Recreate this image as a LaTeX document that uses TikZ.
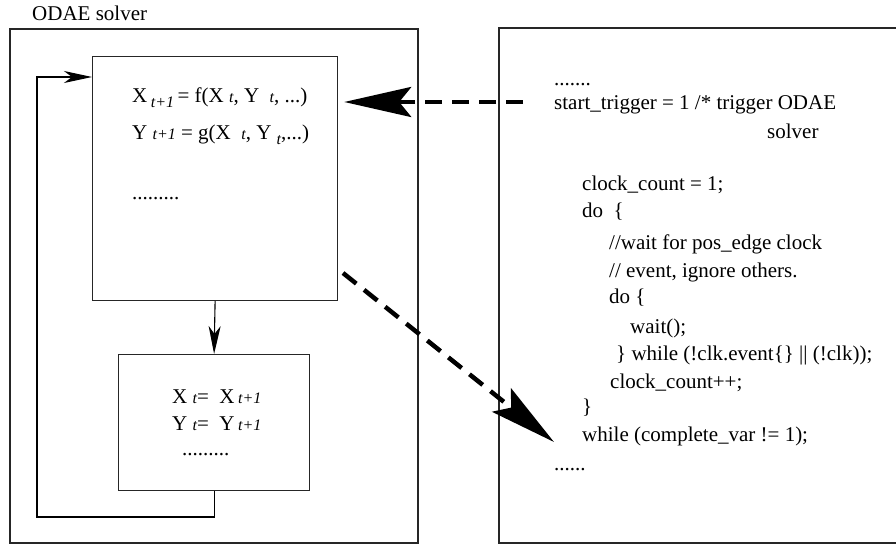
\documentclass[tikz,border=0pt]{standalone}
\usepackage{fontspec}
\setmainfont{Liberation Serif}
\usetikzlibrary{arrows.meta}

% italic index used in the update formulas
\newcommand\ix[1]{{\fontsize{16}{16}\selectfont\itshape #1}}
\newcommand\lowix[1]{\raisebox{-5pt}{\ix{#1}}}

\tikzset{
  frame/.style={draw=black!85, line width=1.2pt},
  stepbox/.style={draw=black!85, line width=1.2pt, inner sep=0pt, anchor=north west},
  txt/.style={anchor=base west, inner sep=0pt, font=\fontsize{21}{25}\selectfont},
  flow/.style={line width=1.1pt, -{Stealth[length=28pt,width=12pt,inset=8pt]}},
  callarrow/.style={line width=4.5pt, dash pattern=on 17pt off 10pt,
    -{Stealth[length=67pt,width=30pt,inset=12pt]}}
}

\begin{document}
\begin{tikzpicture}[x=1pt,y=-1pt]
\useasboundingbox (0,0) rectangle (896,545);

% outer frames
\draw[frame] (10,29) rectangle (418,543);
\draw[frame] (499,28) rectangle (898,543);
\node[txt] (title) at (32,21) {ODAE solver};

% update step
\node[stepbox, minimum width=245pt, minimum height=244pt] (upd) at (92,56) {};
\node[txt] (eqx) at (132,103) {X\,\lowix{t+1}\,= f(X \ix{t}, Y~ \ix{t}, ...)};
\node[txt] (eqy) at (132,140) {Y \ix{t+1} = g(X~ \ix{t}, Y~\lowix{t},...)};
\node[txt] (eqd) at (132,200) {.........};

% state copy step
\node[stepbox, minimum width=191pt, minimum height=136pt] (store) at (118,354) {};
\node[txt] (cpx) at (172,403) {X \ix{t}=~ X\,\ix{t+1}};
\node[txt] (cpy) at (172,430) {Y \ix{t}=~ Y\,\ix{t+1}};
\node[txt] (cpd) at (182,455) {.........};

% controller code
\node[txt] (c0) at (554,86) {.......};
\node[txt] (c1) at (554,110) {start\_trigger = 1 /* trigger ODAE};
\node[txt] (c2) at (767,139) {solver};
\node[txt] (c3) at (582,191) {clock\_count = 1;};
\node[txt] (c4) at (582,218) {do~ \{};
\node[txt] (c5) at (609,250) {//wait for pos\_edge clock};
\node[txt] (c6) at (609,277) {// event, ignore others.};
\node[txt] (c7) at (609,303) {do \{};
\node[txt] (c8) at (630,333) {wait();};
\node[txt] (c9) at (616,360) {\} while (!clk.event\{\} || (!clk));};
\node[txt] (c10) at (610,388) {clock\_count++;};
\node[txt] (c11) at (582,413) {\}};
\node[txt] (c12) at (582,441) {while (complete\_var != 1);};
\node[txt] (c13) at (554,470) {......};

% solver loop
\coordinate (lb) at (37,517);
\coordinate (lt) at (37,77);
\draw[flow] (upd.south) -- (store.north);
\draw[flow] (store.south) |- (lb) -- (lt) -- (upd.west |- lt);

% trigger and completion
\coordinate (trigsrc) at (523,102);
\draw[callarrow, shorten >=6pt] (trigsrc) -- (upd.east |- trigsrc);
\coordinate (donesrc) at (343,273);
\coordinate (donetip) at (554,442);
\draw[callarrow] (donesrc) -- (donetip);
\end{tikzpicture}
\end{document}
